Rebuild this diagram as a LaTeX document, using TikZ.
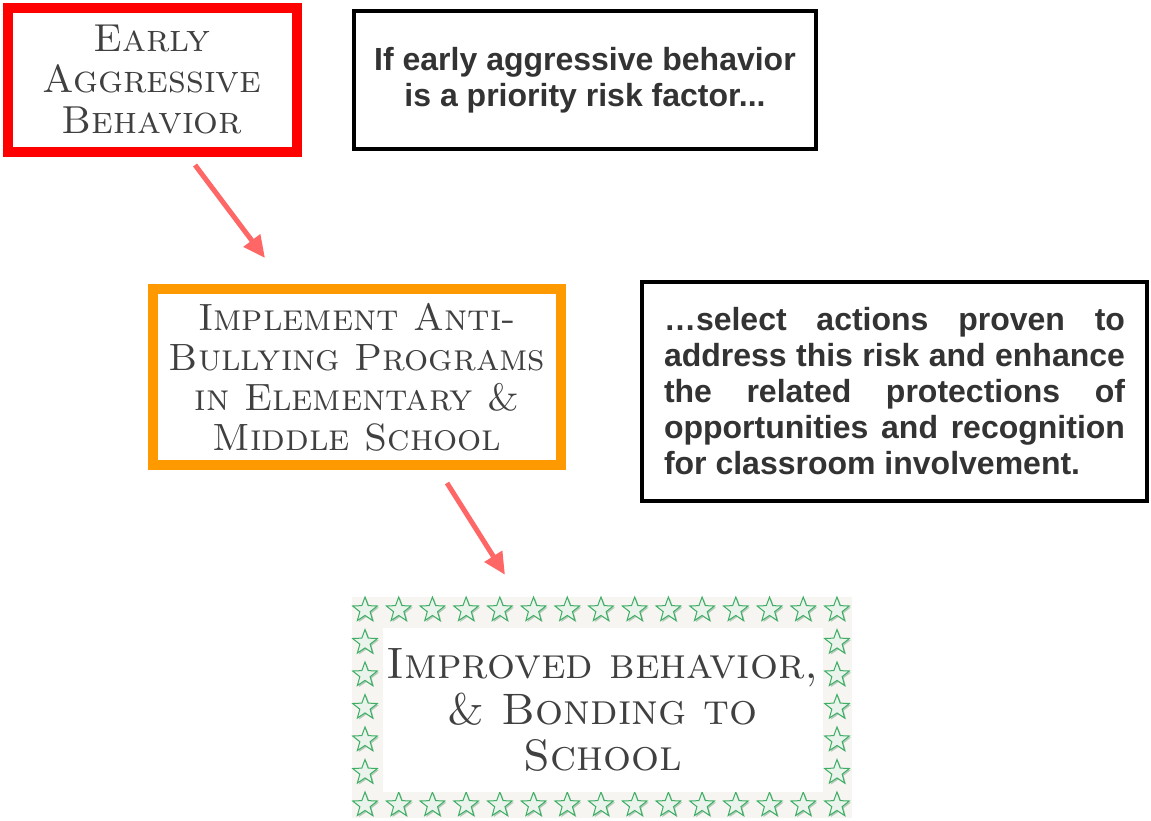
\documentclass[tikz,border=0pt]{standalone}
\usepackage{fontspec}
\usepackage{tikz}
\usetikzlibrary{shapes.geometric, arrows.meta, positioning, shadows}
\newfontfamily\notefont{Liberation Sans}
\definecolor{salmon}{HTML}{FF6666}
\definecolor{boxred}{HTML}{FF0000}
\definecolor{boxorange}{HTML}{FF9900}
\definecolor{inktext}{HTML}{404040}
\definecolor{notetext}{HTML}{333333}
\definecolor{framegray}{HTML}{F6F5F2}
\definecolor{starline}{HTML}{3DAE64}
\definecolor{starfill}{HTML}{EAF4EC}
\hyphenpenalty=10000
\tolerance=9999
\tikzstyle{capsbox} = [rectangle, fill=white, text=inktext, align=center, inner sep=0pt]
\tikzstyle{riskbox} = [capsbox, draw=boxred, line width=10pt, font=\scshape\fontsize{39}{41}\selectfont]
\tikzstyle{actionbox} = [capsbox, draw=boxorange, line width=10pt, font=\scshape\fontsize{38}{40}\selectfont]
\tikzstyle{goalbox} = [capsbox, font=\scshape\fontsize{44}{46}\selectfont]
\tikzstyle{notebox} = [rectangle, draw=black, line width=4pt, fill=white, text=notetext, inner sep=0pt, font=\notefont\bfseries\fontsize{32}{36}\selectfont]
\tikzstyle{starmark} = [star, star points=5, star point ratio=2.4, draw=starline, fill=starfill, line width=1pt, minimum size=26pt, inner sep=0pt, drop shadow={shadow xshift=1.5pt, shadow yshift=-1.5pt, fill=starline!45!gray, opacity=0.45}]
\tikzstyle{link} = [draw=salmon, line width=5pt, -{Triangle[length=22pt, width=20pt]}]

\begin{document}
\begin{tikzpicture}[x=1pt, y=-1pt]
	\useasboundingbox (0,0) rectangle (1151,820);
	\node[riskbox, minimum width=289pt, minimum height=144pt] (early) at (152,80)
		{Early\\ Aggressive\\ Behavior};
	\node[notebox, minimum width=462pt, minimum height=138pt, align=center] (note) at (585,80)
		{If early aggressive behavior\\ is a priority risk factor...};
	\node[actionbox, minimum width=408pt, minimum height=176pt] (anti) at (357,377)
		{Implement Anti-\\ Bullying Programs\\ in Elementary \&\\ Middle School};
	\node[notebox, minimum width=505pt, minimum height=219pt, text width=461pt, align=justify] (select) at (894.5,391.5)
		{…select actions proven to address this risk and enhance the related protections of opportunities and recognition for classroom involvement.};
	% star frame
	\node[rectangle, fill=framegray, minimum width=500pt, minimum height=221pt] (frame) at (602,707.5) {};
	\foreach \i in {0,...,14} {
		\node[starmark] at (365+33.71*\i,610) {};
		\node[starmark] at (365+33.71*\i,805) {};
	}
	\foreach \j in {1,...,5} {
		\node[starmark] at (365,610+32.5*\j) {};
		\node[starmark] at (837,610+32.5*\j) {};
	}
	\node[goalbox, minimum width=440pt, minimum height=164pt] (goal) at (602.5,709.5)
		{Improved behavior,\\ \& Bonding to\\ School};
	\draw[link] ([xshift=43pt, yshift=-8pt]early.south) -- ([xshift=-92pt, yshift=26pt]anti.north);
	\draw[link] ([xshift=90pt, yshift=-13pt]anti.south) -- ([xshift=-97pt, yshift=22pt]frame.north);
\end{tikzpicture}
\end{document}
